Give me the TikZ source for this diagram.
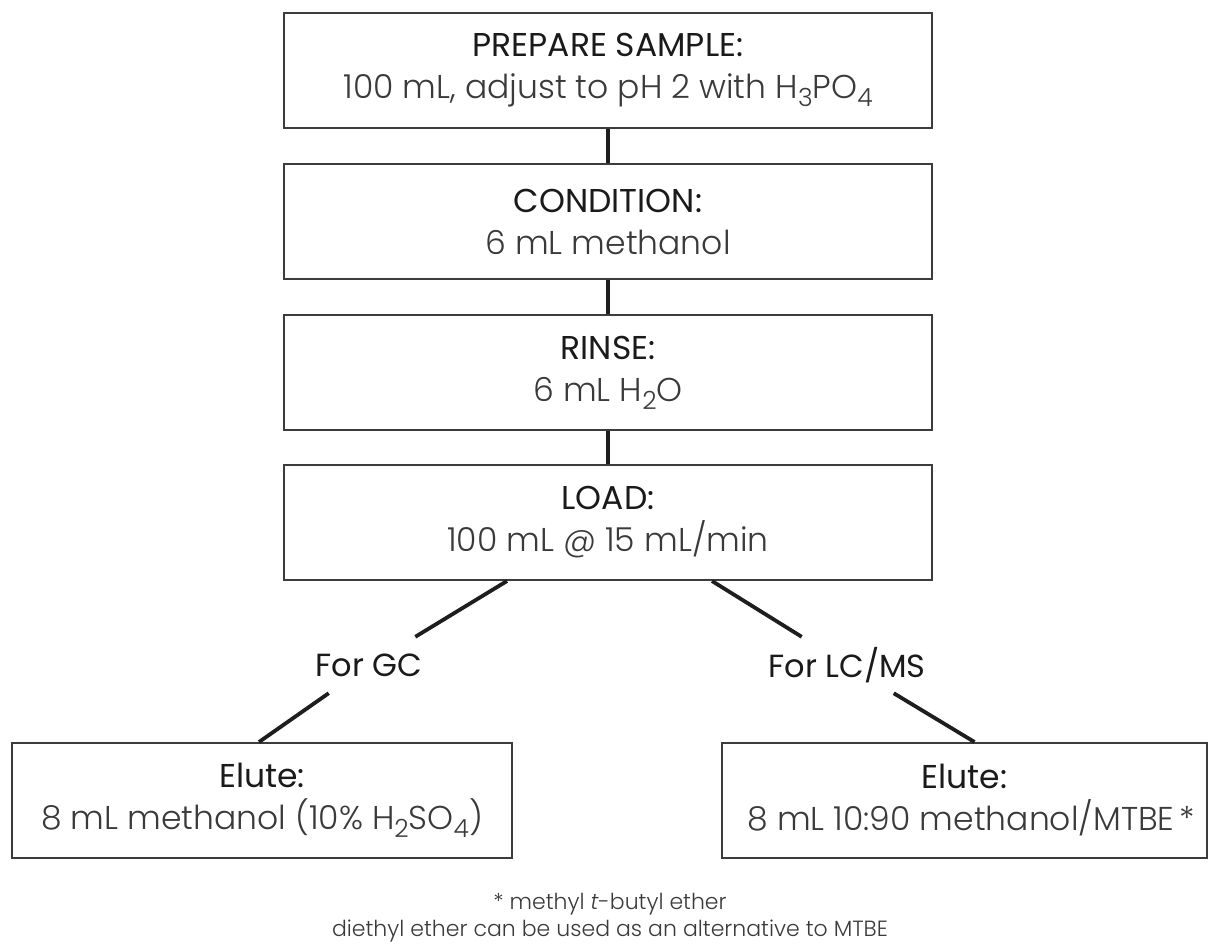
\documentclass[tikz,border=0pt]{standalone}
\usepackage{fontspec}
\setmainfont{Poppins}
\newfontfamily\headfont{Poppins}
\newfontfamily\bodyfont{Poppins Light}
\definecolor{boxline}{HTML}{3C3C3C}
\definecolor{conn}{HTML}{1E1E1E}
\definecolor{headtxt}{HTML}{1A1A1A}
\definecolor{bodytxt}{HTML}{3A3A3A}
\newcommand\chsub[1]{\raisebox{-8pt}{\fontsize{25}{25}\selectfont #1}}
\newcommand\hd[1]{{\headfont\color{headtxt}#1}}
\newcommand\bd[1]{{\bodyfont\color{bodytxt}#1}}
\tikzset{
  stepbox/.style={draw=boxline, line width=2pt, minimum width=648pt, minimum height=115pt,
    inner sep=0pt, align=center, font=\fontsize{33}{42}\selectfont},
  elbox/.style={stepbox, minimum width=#1},
  link/.style={draw=conn, line width=3.8pt},
  branch/.style={font=\headfont\fontsize{32}{32}\selectfont, text=headtxt, inner sep=0pt,
    minimum width=130pt, minimum height=56pt},
  foot/.style={font=\bodyfont\fontsize{22}{27}\selectfont, text=bodytxt, align=center, inner sep=0pt}
}
\begin{document}
\begin{tikzpicture}[x=1pt,y=1pt]
\useasboundingbox[fill=white] (0,0) rectangle (1211,-950);
\node[stepbox] (b1) at (608,-70.5) {\hd{PREPARE SAMPLE:}\\\bd{100 mL, adjust to pH 2 with H\chsub{3}PO\chsub{4}}};
\node[stepbox] (b2) at (608,-221.5) {\hd{CONDITION:}\\\bd{6 mL methanol}};
\node[stepbox] (b3) at (608,-372.5) {\hd{RINSE:}\\\bd{6 mL H\chsub{2}O}};
\node[stepbox] (b4) at (608,-522.5) {\hd{LOAD:}\\\bd{100 mL @ 15 mL/min}};
\node[branch] (gc) at (369,-665) {For GC};
\node[branch] (lc) at (847,-665) {For LC/MS};
\node[elbox=500pt] (eL) at (262,-800.5) {\hd{Elute:}\\\bd{8 mL methanol (10\% H\chsub{2}SO\chsub{4})}};
\node[elbox=485pt] (eR) at (964.5,-800.5) {\hd{Elute:}\\\bd{\hspace*{14pt}8 mL 10:90 methanol/MTBE\,*}};
\node[foot] (fn) at (610,-918) {* methyl {\itshape t}-butyl ether\\diethyl ether can be used as an alternative to MTBE};
\draw[link] (b1) -- (b2);
\draw[link] (b2) -- (b3);
\draw[link] (b3) -- (b4);
\draw[link] ([xshift=-101pt]b4.south) -- (gc);
\draw[link] (gc) -- ([xshift=-3pt]eL.north);
\draw[link] ([xshift=104pt]b4.south) -- (lc);
\draw[link] (lc) -- ([xshift=10pt]eR.north);
\end{tikzpicture}
\end{document}
